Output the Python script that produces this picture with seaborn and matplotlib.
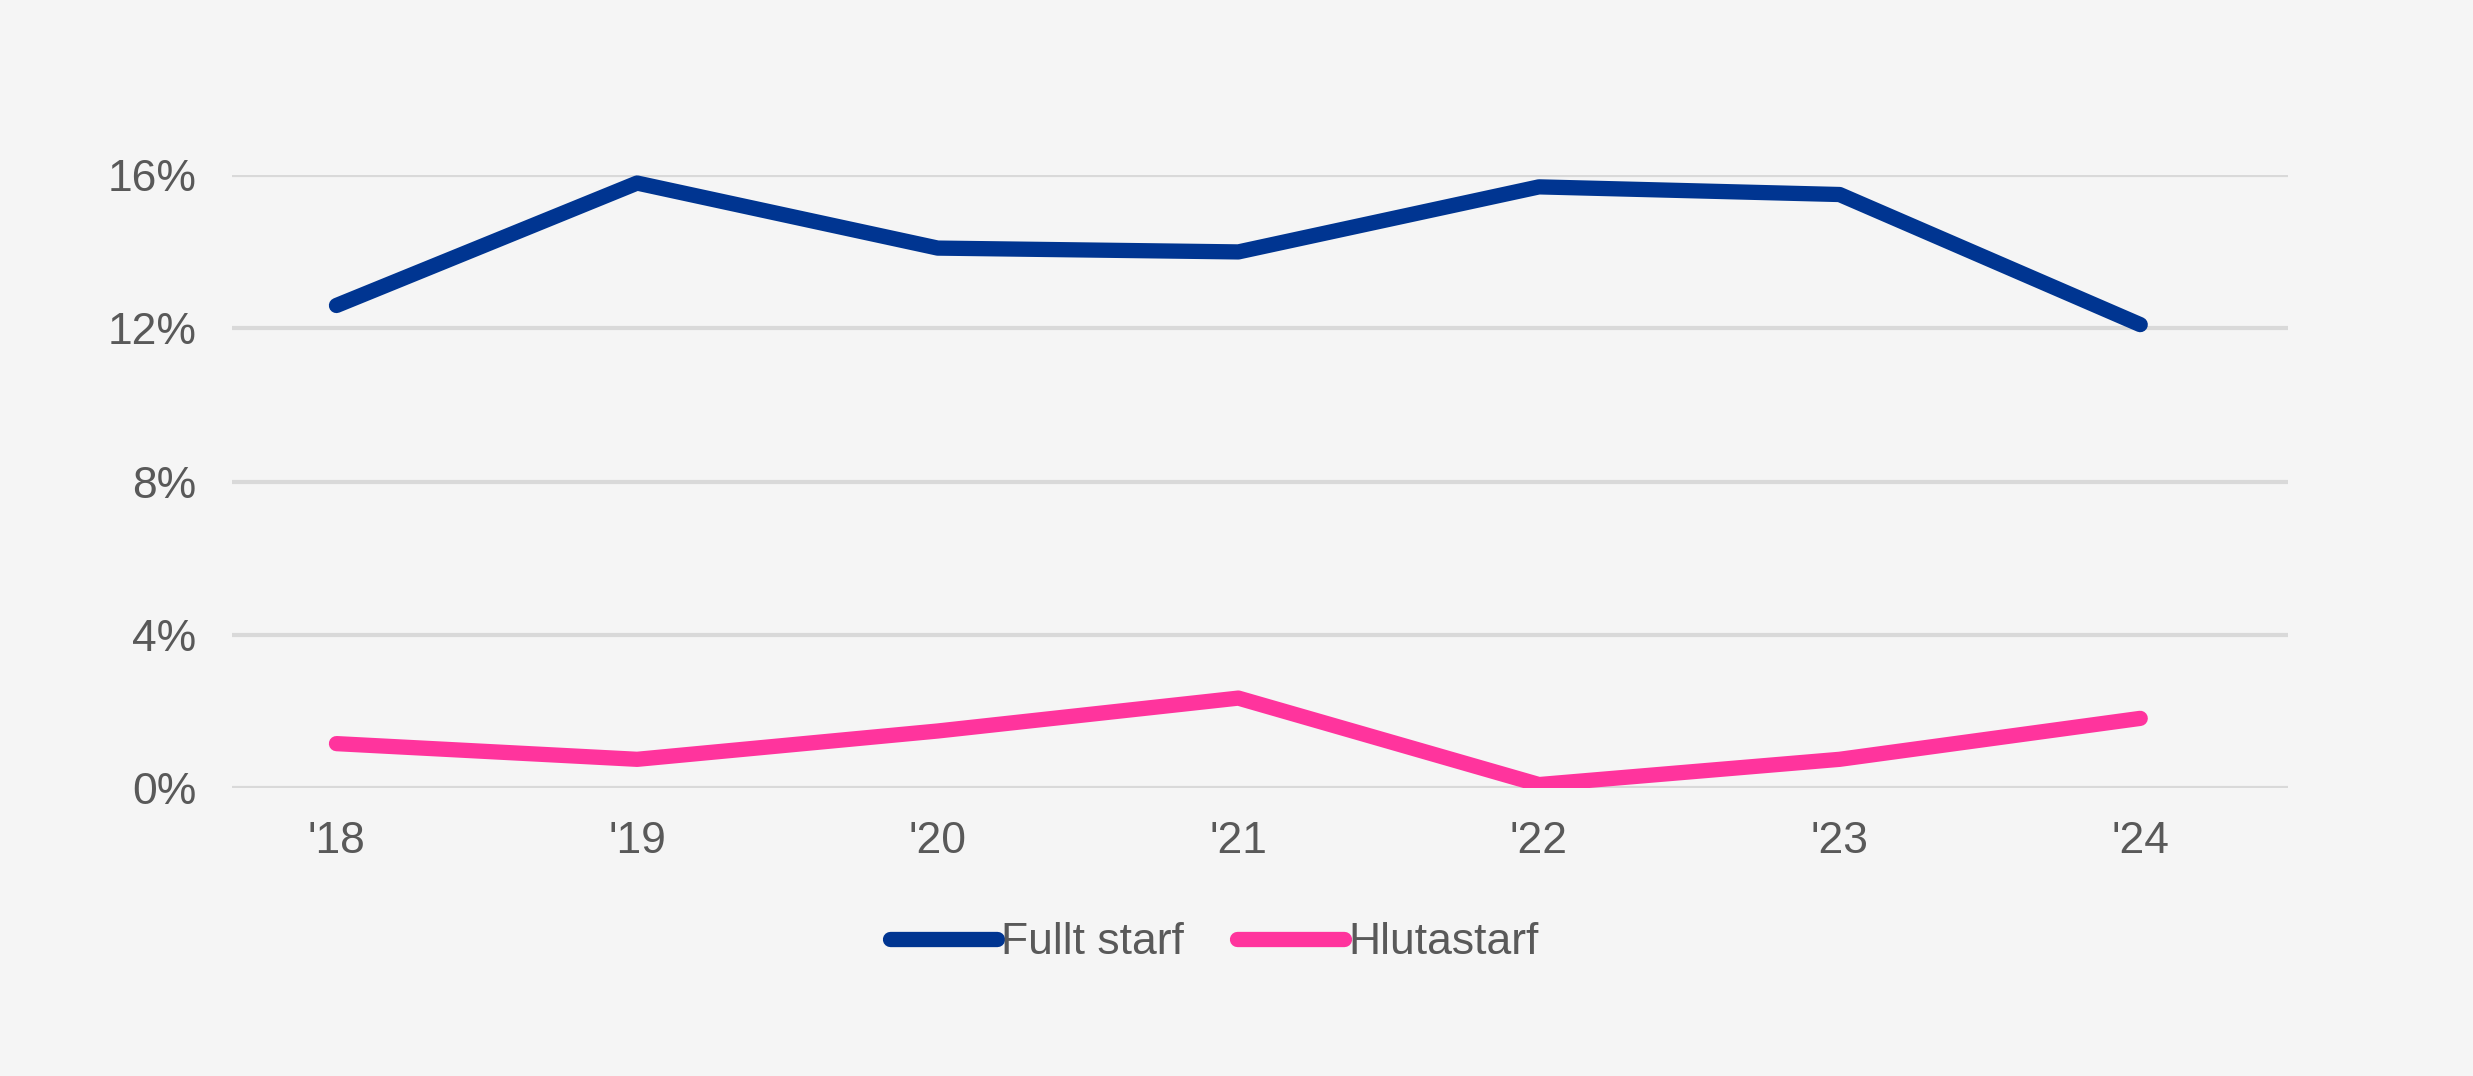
import matplotlib
matplotlib.use('Agg')
import matplotlib.pyplot as plt
import pandas as pd
import seaborn as sns

# Data
years = ["'18", "'19", "'20", "'21", "'22", "'23", "'24"]
fullt_starf = [12.6, 15.8, 14.1, 14.0, 15.7, 15.5, 12.1]
hlutastarf = [1.15, 0.74, 1.48, 2.34, 0.08, 0.74, 1.81]
series_names = ['Fullt starf', 'Hlutastarf']
y_ticks = [0, 4, 8, 12, 16]

BG = '#f5f5f5'
TEXT = '#595959'
palette = {'Fullt starf': '#003591', 'Hlutastarf': '#ff349d'}

sns.set_style('white')
plt.rcParams['font.family'] = ['Liberation Sans', 'DejaVu Sans']

df = pd.DataFrame({
    'year': years * 2,
    'pos': list(range(len(years))) * 2,
    'value': fullt_starf + hlutastarf,
    'series': [series_names[0]] * len(years) + [series_names[1]] * len(years),
})

fig = plt.figure(figsize=(24.73, 10.76), dpi=100, facecolor=BG)
ax = fig.add_axes([0.094, 0.268, 0.831, 0.569])
ax.set_facecolor(BG)

sns.lineplot(data=df, x='pos', y='value', hue='series', palette=palette,
             linewidth=11, solid_capstyle='round', solid_joinstyle='round',
             ax=ax, legend=False)

ax.set_xlim(-0.346, 6.49)
ax.set_ylim(0, 16)
ax.set_xticks(range(len(years)))
ax.set_xticklabels(years)
ax.set_yticks(y_ticks)
ax.set_yticklabels([f'{t}%' for t in y_ticks])
ax.yaxis.grid(True, color='#d9d9d9', linewidth=3)
ax.set_axisbelow(True)
ax.tick_params(axis='both', length=0, labelsize=32, labelcolor=TEXT)
ax.tick_params(axis='x', pad=24)
ax.tick_params(axis='y', pad=26)
ax.set_xlabel('')
ax.set_ylabel('')
for s in ax.spines.values():
    s.set_visible(False)

handles = [plt.Line2D([], [], color=palette[n], linewidth=11, solid_capstyle='round')
           for n in series_names]
fig.legend(handles, series_names, loc='center', bbox_to_anchor=(0.491, 0.124),
           ncol=2, frameon=False, fontsize=32, labelcolor=TEXT,
           handlelength=2.4, handletextpad=0.1, columnspacing=1.2)

fig.savefig('out.png', dpi=100, facecolor=BG)
